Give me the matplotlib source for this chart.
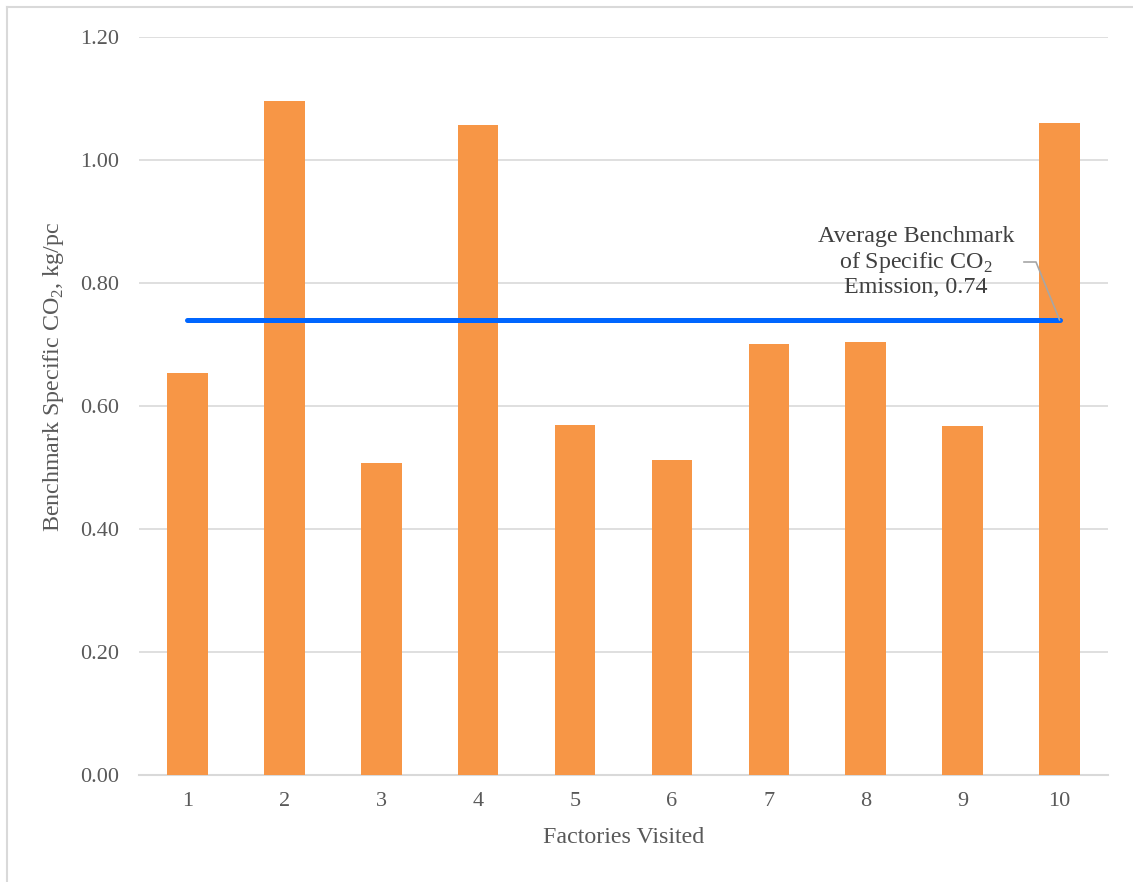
import matplotlib
matplotlib.use("Agg")
import matplotlib.pyplot as plt
from matplotlib.lines import Line2D

factories = [1, 2, 3, 4, 5, 6, 7, 8, 9, 10]
specific_co2 = [0.654, 1.096, 0.507, 1.057, 0.569, 0.512, 0.701, 0.704, 0.567, 1.060]
average_co2 = 0.74
y_ticks = [0.0, 0.2, 0.4, 0.6, 0.8, 1.0, 1.2]

plt.rcParams["font.family"] = ["Liberation Serif", "DejaVu Serif"]
plt.rcParams["mathtext.fontset"] = "custom"
plt.rcParams["mathtext.rm"] = "Liberation Serif"

W, H = 1133, 882
fig = plt.figure(figsize=(W / 100, H / 100), dpi=100)
fig.patch.set_facecolor("white")

ax = fig.add_axes([139 / W, 1 - 775 / H, (1108 - 139) / W, (775 - 37) / H])

bar_color = "#F79646"
ax.bar(factories, specific_co2, width=0.42, color=bar_color, zorder=2)

# average benchmark line across the visited factories
ax.plot([factories[0], factories[-1]], [average_co2, average_co2],
        color="#0066FF", lw=3.6, solid_capstyle="round", zorder=3)

ax.set_xlim(0.5, len(factories) + 0.5)
ax.set_ylim(0, 1.2)
ax.set_yticks(y_ticks)
ax.set_yticklabels([f"{v:.2f}" for v in y_ticks])
ax.set_xticks(factories)
ax.set_xticklabels([str(f) for f in factories])

ax.grid(axis="y", color="#D9D9D9", lw=1.2, zorder=0)
ax.set_axisbelow(True)
for side in ["top", "right", "left"]:
    ax.spines[side].set_visible(False)
ax.spines["bottom"].set_color("#D9D9D9")
ax.spines["bottom"].set_linewidth(1.5)
ax.spines["bottom"].set_zorder(1)

ax.tick_params(axis="both", length=0, labelsize=16, colors="#595959")
ax.tick_params(axis="x", pad=12)
ax.tick_params(axis="y", pad=14)

ax.set_xlabel("Factories Visited", fontsize=17.3, color="#595959", labelpad=12)
ax.set_ylabel("Benchmark Specific CO$_2$, kg/pc", fontsize=17.3, color="#595959")
ax.yaxis.set_label_coords(-0.075, 0.54)

# data label with leader line
ax.annotate("Average Benchmark\nof Specific CO$_2$\nEmission, 0.74",
            xy=(factories[-1], average_co2), xycoords="data",
            xytext=(916 / W, 1 - 262 / H), textcoords="figure fraction",
            ha="center", va="center", fontsize=17.3, color="#404040",
            linespacing=1.12, zorder=4)
x_pt, y_pt = ax.transData.transform((factories[-1], average_co2))
leader = Line2D([x_pt / W, 1036 / W, 1024 / W],
                [y_pt / H, 1 - 262 / H, 1 - 262 / H],
                transform=fig.transFigure, color="#A6A6A6", lw=1.2, zorder=5)
fig.add_artist(leader)

# chart frame (top and left edges)
fig.add_artist(Line2D([7 / W, 1], [1 - 7 / H, 1 - 7 / H], transform=fig.transFigure,
                      color="#D9D9D9", lw=1.5))
fig.add_artist(Line2D([7 / W, 7 / W], [0, 1 - 7 / H], transform=fig.transFigure,
                      color="#D9D9D9", lw=1.5))

fig.savefig("out.png", dpi=100, facecolor="white")
